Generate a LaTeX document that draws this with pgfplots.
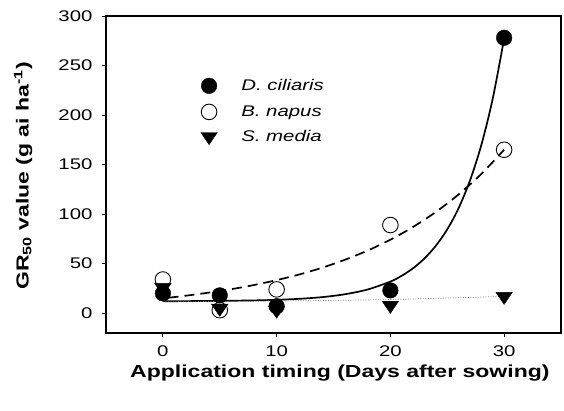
\documentclass[border=0pt]{standalone}
\usepackage{fontspec}
\setmainfont{Liberation Sans}[FakeStretch=1.32]
\usepackage{pgfplots}
\pgfplotsset{compat=1.18}
\begin{document}
\begin{tikzpicture}[x=1bp,y=1bp]
\begin{axis}[
  scale only axis,
  width=455bp, height=317bp,
  xmin=-5, xmax=35, ymin=-20, ymax=300,
  xtick={0,10,20,30}, ytick={0,50,100,150,200,250,300},
  tick pos=left, tick align=outside,
  major tick length=4bp,
  axis line style={line width=1.2bp},
  every tick/.style={line width=0.8bp, black},
  /pgf/number format/assume math mode=true,
  tick label style={font=\fontsize{15.5}{17}\selectfont},
  xticklabel style={yshift=-5bp},
  yticklabel style={xshift=-6bp},
  xlabel={\textbf{Application timing (Days after sowing)}},
  ylabel={\textbf{GR\textsubscript{50} value (g ai ha\textsuperscript{-1})}},
  label style={font=\fontsize{17.5}{19}\selectfont},
  xlabel style={at={(rel axis cs:0.514,-0.125)}, anchor=center},
  ylabel style={at={(rel axis cs:-0.182,0.495)}, anchor=center},
  clip=false,
  legend style={draw=none, fill=none, at={(rel axis cs:0.208,0.805)}, anchor=north west,
    nodes={font=\fontsize{15.5}{17}\selectfont\itshape, inner sep=0pt},
    row sep=10.5bp, column sep=24bp, inner sep=0pt},
  legend cell align=left,
  legend image code/.code={\draw[#1] plot coordinates {(0bp,0bp)};},
]
% fitted curves
\addplot[line width=1.7bp, black, smooth, forget plot] coordinates {
(0,12.1)(4,12.3)(8,12.9)(10,13.5)(12,14.5)(14,16.2)(16,19.1)(18,23.9)(20,31.9)
(21,37.8)(22,45.4)(23,55.3)(24,68.1)(25,84.6)(26,106.1)(27,133.9)(28,169.9)(29,216.6)(30,277.1)};
\addplot[line width=1.7bp, black, dash pattern=on 10bp off 6bp, smooth, forget plot] coordinates {
(0.5,15.6)(2,17.6)(4,20.7)(6,24.2)(8,28.4)(10,33.4)(12,39.1)(14,45.9)(16,53.9)(18,63.2)
(20,74.2)(22,87.1)(24,102.2)(26,119.9)(28,140.6)(30,165)};
\addplot[line width=0.7bp, gray, dash pattern=on 1bp off 1.5bp, smooth, forget plot] coordinates {
(0,11.5)(10,12.3)(20,13.8)(30,17)};
% data
\addplot[only marks, mark=*, mark size=7.8bp, mark options={fill=black, draw=black}] coordinates {
(0,20)(5,18)(10,7)(20,23)(30,278)};
\addlegendentry{D. ciliaris}
\addplot[only marks, mark=o, mark size=7.8bp, mark options={draw=black, fill=white, line width=0.9bp}] coordinates {
(0,34)(5,3)(10,24)(20,89)(30,165)};
\addlegendentry{B. napus}
\addplot[only marks, mark=triangle*, mark size=9.5bp, mark options={rotate=180, yscale=0.85, fill=black, draw=black}] coordinates {
(0,26)(5,5)(10,3)(20,8)(30,17)};
\addlegendentry{S. media}
\coordinate (bl) at (rel axis cs:-0.233,-0.246);
\coordinate (tr) at (rel axis cs:1.0066,1.0505);
\end{axis}
\pgfresetboundingbox
\path[use as bounding box] (bl) rectangle (tr);
\end{tikzpicture}
\end{document}
